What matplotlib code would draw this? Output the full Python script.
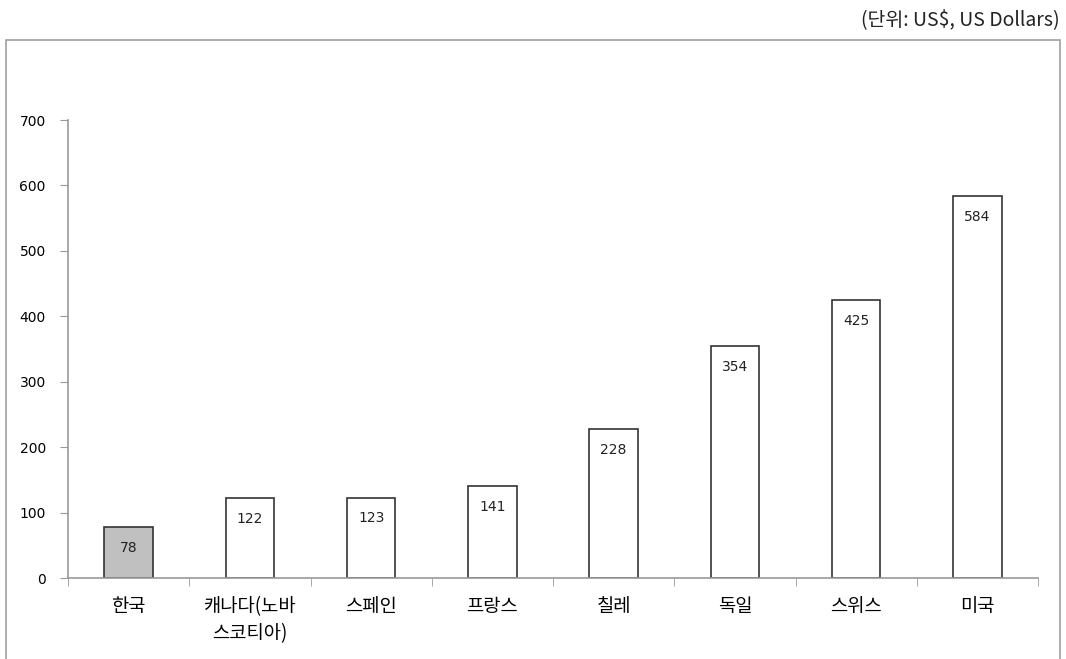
import numpy as np
import matplotlib.pyplot as plt
from matplotlib.patches import Rectangle

plt.rcParams['font.family'] = ['Noto Sans CJK KR', 'DejaVu Sans']

countries = ['한국', '캐나다(노바\n스코티아)', '스페인', '프랑스', '칠레', '독일', '스위스', '미국']
costs = [78, 122, 123, 141, 228, 354, 425, 584]
y_ticks = [0, 100, 200, 300, 400, 500, 600, 700]

W, H = 1066, 659
fig = plt.figure(figsize=(W / 100, H / 100), dpi=100)

# outer frame around the chart area
fig.patches.append(Rectangle((6 / W, -0.01), 1054 / W, 1 - 40 / H + 0.01,
                             transform=fig.transFigure, fill=False,
                             edgecolor='#a0a0a0', linewidth=1.2))
fig.text(1060 / W, 1 - 20 / H, '(단위: US$, US Dollars)', ha='right', va='center',
         fontsize=14, color='#222222')

ax = fig.add_axes([68 / W, 1 - 578 / H, (1038 - 68) / W, (578 - 120) / H])
x = np.arange(len(countries))
colors = ['#c0c0c0'] + ['white'] * (len(countries) - 1)
bars = ax.bar(x, costs, width=0.4, color=colors, edgecolor='#333333', linewidth=1.2, zorder=2)

for b, v in zip(bars, costs):
    ax.annotate(str(v), (b.get_x() + b.get_width() / 2, v), xytext=(0, -15),
                textcoords='offset points', ha='center', va='center',
                fontsize=10, fontfamily=['DejaVu Sans'], color='#222222', zorder=3)

ax.set_xlim(-0.5, len(countries) - 0.5)
ax.set_ylim(0, 700)
ax.set_yticks(y_ticks)
ax.set_yticklabels([str(t) for t in y_ticks], fontfamily=['DejaVu Sans'])
ax.set_xticks(x)
ax.set_xticklabels(countries, fontsize=13.5, linespacing=1.35)
ax.set_xticks(np.arange(-0.5, len(countries)), minor=True)
ax.tick_params(axis='x', which='major', length=0, pad=13)
ax.tick_params(axis='x', which='minor', length=6, color='#999999', direction='out')
ax.tick_params(axis='y', length=6, color='#999999', labelsize=10, pad=10)
for s in ['top', 'right']:
    ax.spines[s].set_visible(False)
for s in ['left', 'bottom']:
    ax.spines[s].set_color('#999999')
    ax.spines[s].set_linewidth(1.2)

fig.savefig('out.png', dpi=100)
